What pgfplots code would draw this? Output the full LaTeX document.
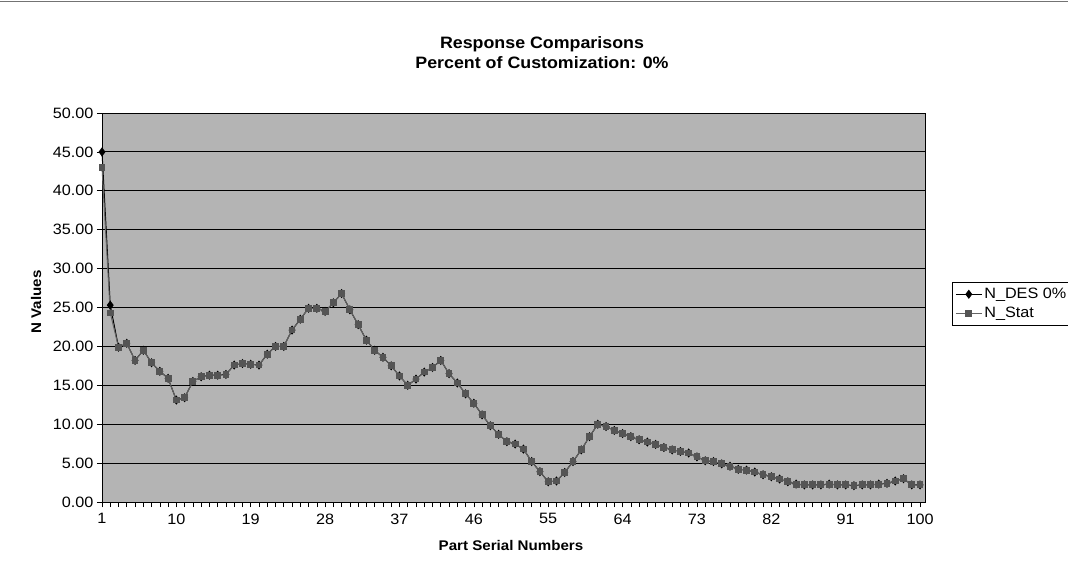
\documentclass[border=0pt]{standalone}
\usepackage{fontspec}
\setmainfont{Liberation Sans}[FakeStretch=1.08]
\usepackage{pgfplots}
\pgfplotsset{compat=1.18}

\definecolor{plotgray}{RGB}{180,180,180}
\definecolor{statline}{RGB}{100,100,100}
\definecolor{statmark}{RGB}{85,85,85}

% N values per part serial number
\pgfplotstableread{
x   des    stat
1   45.0   43.0
2   25.3   24.3
3   19.9   19.9
4   20.4   20.4
5   18.2   18.2
6   19.5   19.5
7   17.9   17.9
8   16.8   16.8
9   15.9   15.9
10  13.1   13.1
11  13.4   13.4
12  15.5   15.5
13  16.1   16.1
14  16.3   16.3
15  16.3   16.3
16  16.4   16.4
17  17.6   17.6
18  17.8   17.8
19  17.7   17.7
20  17.6   17.6
21  19.0   19.0
22  20.0   20.0
23  20.0   20.0
24  22.1   22.1
25  23.5   23.5
26  24.9   24.9
27  24.9   24.9
28  24.5   24.5
29  25.6   25.6
30  26.8   26.8
31  24.7   24.7
32  22.8   22.8
33  20.8   20.8
34  19.5   19.5
35  18.6   18.6
36  17.5   17.5
37  16.2   16.2
38  15.0   15.0
39  15.8   15.8
40  16.7   16.7
41  17.3   17.3
42  18.2   18.2
43  16.5   16.5
44  15.3   15.3
45  13.9   13.9
46  12.7   12.7
47  11.2   11.2
48  9.8    9.8
49  8.7    8.7
50  7.75   7.75
51  7.45   7.45
52  6.8    6.8
53  5.2    5.2
54  3.9    3.9
55  2.6    2.6
56  2.7    2.7
57  3.8    3.8
58  5.2    5.2
59  6.7    6.7
60  8.4    8.4
61  10.0   10.0
62  9.7    9.7
63  9.2    9.2
64  8.8    8.8
65  8.4    8.4
66  8.0    8.0
67  7.7    7.7
68  7.4    7.4
69  7.0    7.0
70  6.7    6.7
71  6.5    6.5
72  6.3    6.3
73  5.8    5.8
74  5.3    5.3
75  5.2    5.2
76  4.9    4.9
77  4.6    4.6
78  4.2    4.2
79  4.1    4.1
80  3.85   3.85
81  3.5    3.5
82  3.25   3.25
83  2.95   2.95
84  2.6    2.6
85  2.3    2.3
86  2.2    2.2
87  2.2    2.2
88  2.2    2.2
89  2.3    2.3
90  2.2    2.2
91  2.2    2.2
92  2.1    2.1
93  2.2    2.2
94  2.2    2.2
95  2.3    2.3
96  2.4    2.4
97  2.7    2.7
98  3.0    3.0
99  2.2    2.2
100 2.2    2.2
}\nvalues

\begin{document}
\begin{tikzpicture}
\useasboundingbox (-102pt,-69pt) rectangle (966pt,502pt);
\draw[black!55, line width=0.6pt] (-102pt,500.5pt) -- (966pt,500.5pt);

\begin{axis}[
  at={(0pt,0pt)}, anchor=south west,
  scale only axis, width=823pt, height=389pt,
  xmin=1, xmax=100.6, ymin=0, ymax=50,
  xtick={1,10,...,100}, minor xtick={1,...,100},
  ytick={0,5,...,50},
  tick pos=left, tick align=outside,
  major tick length=5pt, minor tick length=5pt,
  ymajorgrids,
  major grid style={black, line width=0.8pt},
  axis background/.style={fill=plotgray},
  axis line style={black, line width=0.8pt},
  tick style={black, line width=0.6pt},
  /pgf/number format/assume math mode=true,
  ticklabel style={font=\fontsize{15}{17}\selectfont},
  x tick label style={yshift=-3pt},
  y tick label style={/pgf/number format/fixed,
    /pgf/number format/fixed zerofill, /pgf/number format/precision=2},
  clip=false,
  legend style={at={(1.0328,0.5656)}, anchor=north west,
    draw=black, line width=0.6pt, fill=white,
    font=\fontsize{15}{17}\selectfont,
    inner xsep=3pt, inner ysep=4pt, row sep=3pt,
    cells={anchor=west}},
  legend image code/.code={
    \draw[mark repeat=2, mark phase=2, #1]
      plot coordinates {(0pt,0pt) (13pt,0pt) (26pt,0pt)};},
]
\addplot[black, line width=1pt, mark=diamond*, mark size=3.8pt,
  mark options={fill=black, draw=black}]
  table[x=x, y=des] {\nvalues};
\addlegendentry{N\_DES 0\%}
\addplot[statline, line width=1pt, mark=square*, mark size=2.9pt,
  mark options={fill=statmark, draw=statmark}]
  table[x=x, y=stat] {\nvalues};
\addlegendentry{N\_Stat}
\end{axis}

\node[font=\bfseries\fontsize{16.5}{19}\selectfont] at (440pt,458pt) {Response Comparisons};
\node[font=\bfseries\fontsize{16.5}{19}\selectfont] at (440pt,439pt) {Percent of Customization: 0\%};
\node[font=\bfseries\fontsize{14}{16}\selectfont] at (409pt,-43pt) {Part Serial Numbers};
\node[font=\bfseries\fontsize{14}{16}\selectfont, rotate=90] at (-66pt,200pt) {N Values};
\end{tikzpicture}
\end{document}
